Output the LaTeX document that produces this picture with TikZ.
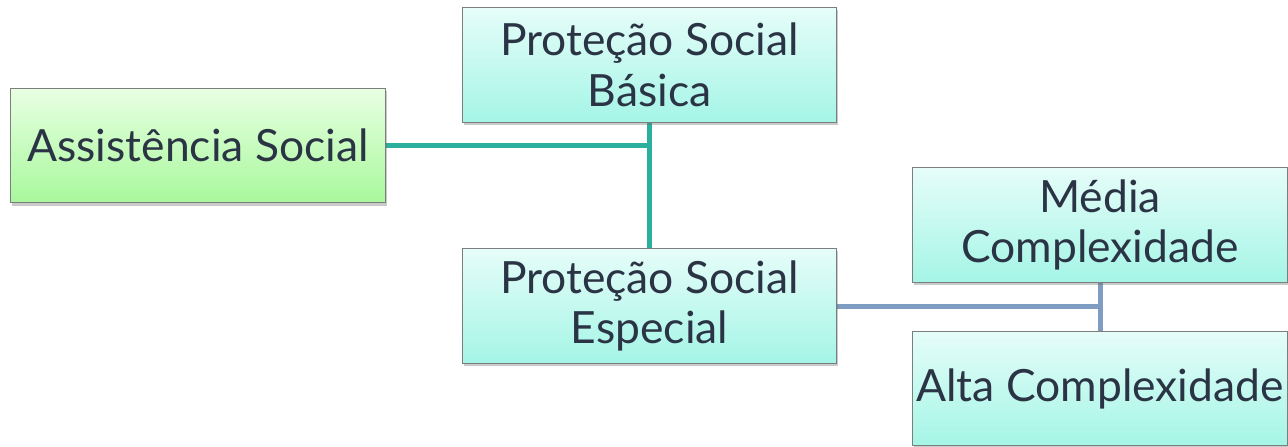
\documentclass[tikz,border=0pt]{standalone}
\usepackage{fontspec}
\setmainfont{Lato}
\usetikzlibrary{shadows,backgrounds}
\definecolor{txt}{HTML}{2B3445}
\definecolor{greentop}{HTML}{E8FFE2}
\definecolor{greenbot}{HTML}{A8F89C}
\definecolor{cyantop}{HTML}{E6FDF9}
\definecolor{cyanbot}{HTML}{A4F5E6}
\definecolor{bordergray}{HTML}{7A7F7E}
\definecolor{tealline}{HTML}{2BB0A0}
\definecolor{blueline}{HTML}{7F9CC2}
\tikzset{
  box/.style={draw=bordergray, line width=0.8pt, minimum width=281pt, minimum height=86pt,
    inner sep=0pt, align=center, text=txt, font=\fontsize{33.3}{38}\selectfont,
    drop shadow={opacity=0.35, shadow xshift=1.2pt, shadow yshift=-2pt, fill=black!60}},
  greenbox/.style={box, top color=greentop, bottom color=greenbot},
  cyanbox/.style={box, top color=cyantop, bottom color=cyanbot},
  tealconn/.style={draw=tealline, line width=3.75pt},
  blueconn/.style={draw=blueline, line width=3.75pt}
}
\begin{document}
\begin{tikzpicture}[x=0.75pt,y=-0.75pt]
\useasboundingbox (0,0) rectangle (1288,446);
\node[greenbox] (A) at (198,145.5) {Assistência Social};
\node[cyanbox] (B) at (649.5,65) {Proteção Social\\Básica};
\node[cyanbox] (E) at (649.5,306) {Proteção Social\\Especial};
\node[cyanbox] (M) at (1100,225) {Média\\Complexidade};
\node[cyanbox] (H) at (1100,388.5) {Alta Complexidade};
\begin{scope}[on background layer]
\draw[tealconn] (A.east) -- (A.east -| B.south);
\draw[tealconn] (B.south) -- (E.north);
\draw[blueconn] (E.east) -- (E.east -| M.south);
\draw[blueconn] (M.south) -- (H.north);
\end{scope}
\end{tikzpicture}
\end{document}
